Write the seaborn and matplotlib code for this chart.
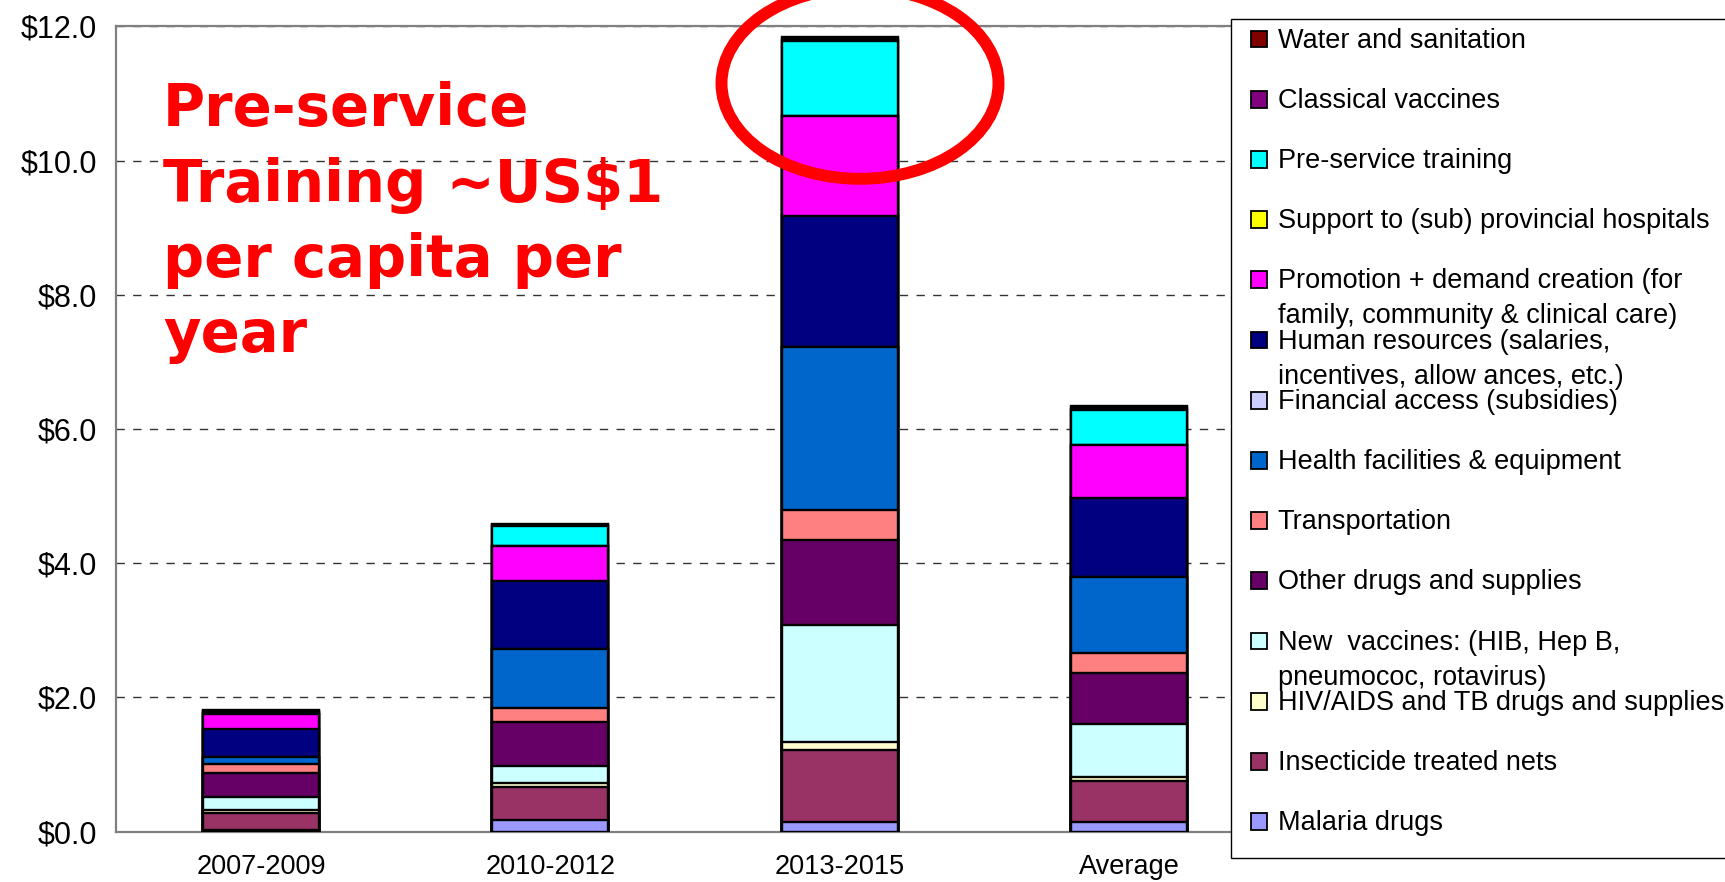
import numpy as np
import pandas as pd
import matplotlib
matplotlib.use("Agg")
import matplotlib.pyplot as plt
import seaborn as sns
from matplotlib.patches import Ellipse, Rectangle

# ---------------- data ----------------
categories = ["2007-2009", "2010-2012", "2013-2015", "Average"]

# stacking order: bottom -> top
series_names = [
    "Malaria drugs",
    "Insecticide treated nets",
    "HIV/AIDS and TB drugs and supplies",
    "New  vaccines: (HIB, Hep B,\npneumococ, rotavirus)",
    "Other drugs and supplies",
    "Transportation",
    "Health facilities & equipment",
    "Financial access (subsidies)",
    "Human resources (salaries,\nincentives, allow ances, etc.)",
    "Promotion + demand creation (for\nfamily, community & clinical care)",
    "Support to (sub) provincial hospitals",
    "Pre-service training",
    "Classical vaccines",
    "Water and sanitation",
]

malaria_drugs = [0.03, 0.17, 0.15, 0.14]
insecticide_nets = [0.25, 0.50, 1.07, 0.62]
hiv_tb = [0.05, 0.06, 0.12, 0.06]
new_vaccines = [0.18, 0.25, 1.74, 0.78]
other_drugs = [0.36, 0.65, 1.27, 0.77]
transportation = [0.14, 0.22, 0.44, 0.29]
health_facilities = [0.10, 0.87, 2.43, 1.14]
financial_access = [0.0, 0.0, 0.0, 0.0]
human_resources = [0.42, 1.01, 1.96, 1.18]
promotion = [0.22, 0.52, 1.49, 0.78]
support_hospitals = [0.0, 0.0, 0.0, 0.0]
preservice_training = [0.03, 0.30, 1.11, 0.52]
classical_vaccines = [0.02, 0.02, 0.03, 0.03]
water_sanitation = [0.02, 0.02, 0.03, 0.03]

series_values = [malaria_drugs, insecticide_nets, hiv_tb, new_vaccines, other_drugs,
                 transportation, health_facilities, financial_access, human_resources,
                 promotion, support_hospitals, preservice_training, classical_vaccines,
                 water_sanitation]

series_colors = ["#9999FF", "#993366", "#FFFFCC", "#CCFFFF", "#660066", "#FF8080",
                 "#0066CC", "#CCCCFF", "#000080", "#FF00FF", "#FFFF00", "#00FFFF",
                 "#800080", "#800000"]

y_ticks = [0, 2, 4, 6, 8, 10, 12]
y_tick_labels = ["$0.0", "$2.0", "$4.0", "$6.0", "$8.0", "$10.0", "$12.0"]

annotation_lines = ["Pre-service", "Training ~US$1", "per capita per", "year"]

# ---------------- style ----------------
sns.set_style("white")
plt.rcParams["font.family"] = ["Liberation Sans", "DejaVu Sans"]

W, H = 1725, 882
fig = plt.figure(figsize=(W / 100, H / 100), dpi=100)

def fx(px):
    return px / W

def fy(py):
    return 1 - py / H

ax_left, ax_right, ax_top, ax_bottom = 116.4, 1273.6, 26.4, 831.7
ax = fig.add_axes([fx(ax_left), fy(ax_bottom), (ax_right - ax_left) / W, (ax_bottom - ax_top) / H])

# ---------------- stacked bars (cumulative overlay) ----------------
cum = np.cumsum(np.array(series_values, dtype=float), axis=0)
for i in reversed(range(len(series_names))):
    df = pd.DataFrame({"category": categories, "value": cum[i]})
    sns.barplot(data=df, x="category", y="value", order=categories,
                color=series_colors[i], saturation=1, edgecolor="black",
                linewidth=1.7, width=0.4, ax=ax, zorder=3)

ax.set_xlim(-0.5, 3.5)
ax.set_ylim(0, 12)
ax.set_xlabel("")
ax.set_ylabel("")

ax.set_yticks(y_ticks)
ax.set_yticklabels(y_tick_labels, fontsize=22)
ax.tick_params(axis="y", which="major", length=7, width=1.2, color="#808080",
               direction="out", pad=7, labelcolor="black")

ax.set_xticks(range(len(categories)))
ax.set_xticklabels(categories, fontsize=19.5)
ax.tick_params(axis="x", which="major", length=0, pad=16, labelcolor="black")
ax.set_xticks([-0.5, 0.5, 1.5, 2.5, 3.5], minor=True)
ax.tick_params(axis="x", which="minor", length=6, width=1.2, color="#808080", direction="out")

ax.set_axisbelow(True)
ax.yaxis.grid(True, linestyle=(0, (6, 6)), color="#333333", linewidth=1.0)
ax.xaxis.grid(False)

for side in ["left", "bottom", "top"]:
    ax.spines[side].set_visible(True)
    ax.spines[side].set_color("#808080")
    ax.spines[side].set_linewidth(1.6)
ax.spines["right"].set_visible(False)

# ---------------- legend panel ----------------
leg_left, leg_top, leg_bottom = 1231, 19, 858
fig.add_artist(Rectangle((fx(leg_left), fy(leg_bottom)), 1 - fx(leg_left) + 0.01,
                         (leg_bottom - leg_top) / H, transform=fig.transFigure,
                         facecolor="white", edgecolor="black", linewidth=1.0, zorder=5))

leg_fs = 19.5
y0, dy = 38.0, 60.2
box = 16.7
for k, idx in enumerate(reversed(range(len(series_names)))):
    yc = y0 + dy * k
    fig.add_artist(Rectangle((fx(1250.7), fy(yc + 1 + box / 2)), box / W, box / H,
                             transform=fig.transFigure, facecolor=series_colors[idx],
                             edgecolor="black", linewidth=1.3, zorder=6))
    for j, line in enumerate(series_names[idx].split("\n")):
        fig.text(fx(1277.7), fy(yc + 9.6 + 35 * j), line, fontsize=leg_fs,
                 ha="left", va="baseline", color="black", zorder=7)

# ---------------- annotation ----------------
for j, line in enumerate(annotation_lines):
    fig.text(fx(163), fy(126 + 75.5 * j), line, fontsize=41.5, fontweight="bold",
             family="DejaVu Sans", color="#FF0000", ha="left", va="baseline", zorder=7)

fig.add_artist(Ellipse((fx(860), fy(83.3)), 277 / W, 191 / H, transform=fig.transFigure,
                       fill=False, edgecolor="#FF0000", linewidth=8.6, zorder=8))

fig.savefig("out.png", dpi=100)
